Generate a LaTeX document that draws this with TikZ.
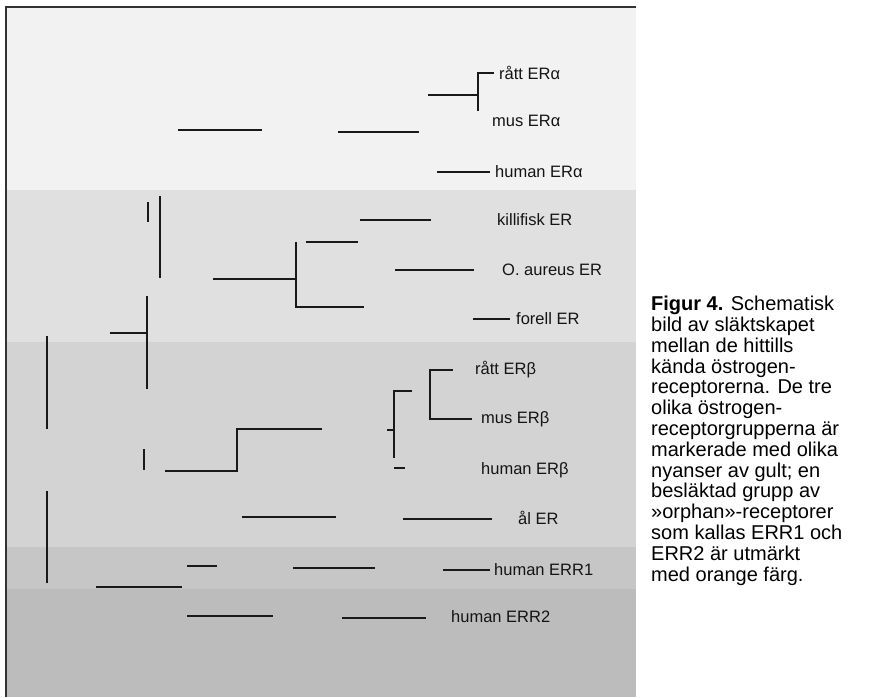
\documentclass[tikz,border=0pt]{standalone}
\usepackage{fontspec}
\setmainfont{Liberation Sans}
\definecolor{bandA}{HTML}{F2F2F2}
\definecolor{bandB}{HTML}{E0E0E0}
\definecolor{bandC}{HTML}{D3D3D3}
\definecolor{bandD}{HTML}{C6C6C6}
\definecolor{bandE}{HTML}{BCBCBC}
\begin{document}
\begin{tikzpicture}[x=1pt,y=-1pt,
  br/.style={line width=1.8pt,color=black!90},
  lab/.style={anchor=west,inner sep=0pt,font=\fontsize{16.5}{18}\selectfont,text=black!92},
  captext/.style={anchor=north west,inner sep=0pt,align=left,font=\fontsize{20}{20.8}\selectfont,text=black}
]
\useasboundingbox (0,0) rectangle (872,697);
\fill[white] (0,0) rectangle (872,697);
% background bands
\fill[bandA] (6,7) rectangle (636,190);
\fill[bandB] (6,190) rectangle (636,342);
\fill[bandC] (6,342) rectangle (636,547);
\fill[bandD] (6,547) rectangle (636,589);
\fill[bandE] (6,589) rectangle (636,697);
\coordinate (fbl) at (6,697);
\coordinate (ftl) at (6,7);
\coordinate (ftr) at (636,7);
\draw[line width=1.2pt,black!80] (fbl) -- (ftl) -- (ftr);

% ---- ER alpha group
\coordinate (ra1) at (478,73);
\coordinate (ra2) at (494,73);
\coordinate (ra3) at (478,111);
\coordinate (ra4) at (428,95);
\coordinate (ra5) at (478,95);
\draw[br] (ra2) -- (ra1) -- (ra3);
\draw[br] (ra4) -- (ra5);
\coordinate (ha1) at (178,130); \coordinate (ha2) at (262,130);
\coordinate (hb1) at (338,132); \coordinate (hb2) at (419,132);
\coordinate (he1) at (437,172); \coordinate (he2) at (490,172);
\draw[br] (ha1) -- (ha2);
\draw[br] (hb1) -- (hb2);
\draw[br] (he1) -- (he2);
\node[lab] (rattA) at (499,73) {rått ERα};
\node[lab] (musA) at (492,121) {mus ERα};
\node[lab] (humA) at (495,172) {human ERα};

% ---- fish ER group
\coordinate (v1a) at (148,202); \coordinate (v1b) at (148,222);
\coordinate (v2a) at (160,196); \coordinate (v2b) at (160,278);
\draw[br] (v1a) -- (v1b);
\draw[br] (v2a) -- (v2b);
\coordinate (kf1) at (360,220); \coordinate (kf2) at (431,220);
\coordinate (k21) at (306,242); \coordinate (k22) at (358,242);
\coordinate (kv1) at (296,242); \coordinate (kv2) at (296,307);
\coordinate (kh1) at (213,279); \coordinate (kh2) at (296,279);
\coordinate (kb2) at (364,307);
\coordinate (oa1) at (395,270); \coordinate (oa2) at (474,270);
\coordinate (fo1) at (473,319); \coordinate (fo2) at (510,319);
\draw[br] (kf1) -- (kf2);
\draw[br] (k21) -- (k22);
\draw[br] (kv1) -- (kv2) -- (kb2);
\draw[br] (kh1) -- (kh2);
\draw[br] (oa1) -- (oa2);
\draw[br] (fo1) -- (fo2);
\node[lab] (killi) at (497,220) {killifisk ER};
\node[lab] (aureus) at (502,270) {O. aureus ER};
\node[lab] (forell) at (516,319) {forell ER};

% ---- left spine pieces
\coordinate (s1a) at (147,296); \coordinate (s1b) at (147,389);
\coordinate (s1h) at (110,333); \coordinate (s1m) at (147,333);
\coordinate (s2a) at (47,336); \coordinate (s2b) at (47,429);
\coordinate (s3a) at (47,491); \coordinate (s3b) at (47,583);
\draw[br] (s1a) -- (s1b);
\draw[br] (s1h) -- (s1m);
\draw[br] (s2a) -- (s2b);
\draw[br] (s3a) -- (s3b);

% ---- ER beta group
\coordinate (rb0) at (453,370); \coordinate (rb1) at (430,370);
\coordinate (rb2) at (430,419); \coordinate (rb3) at (472,419);
\draw[br] (rb0) -- (rb1) -- (rb2) -- (rb3);
\coordinate (bv0) at (412,391); \coordinate (bv1) at (394,391);
\coordinate (bv2) at (394,458);
\draw[br] (bv0) -- (bv1) -- (bv2);
\coordinate (bt1) at (387,430); \coordinate (bt2) at (394,430);
\coordinate (bt3) at (394,468); \coordinate (bt4) at (405,468);
\draw[br] (bt1) -- (bt2);
\draw[br] (bt3) -- (bt4);
\coordinate (bh0) at (322,429); \coordinate (bh1) at (237,429);
\coordinate (bh2) at (237,471); \coordinate (bh3) at (165,471);
\draw[br] (bh0) -- (bh1) -- (bh2) -- (bh3);
\coordinate (bs1) at (144,449); \coordinate (bs2) at (144,470);
\draw[br] (bs1) -- (bs2);
\coordinate (al1) at (242,517); \coordinate (al2) at (336,517);
\coordinate (al3) at (403,519); \coordinate (al4) at (492,519);
\draw[br] (al1) -- (al2);
\draw[br] (al3) -- (al4);
\node[lab] (rattB) at (475,370) {rått ERβ};
\node[lab] (musB) at (481,419) {mus ERβ};
\node[lab] (humB) at (481,470) {human ERβ};
\node[lab] (alER) at (518,518) {ål ER};

% ---- ERR group
\coordinate (e01) at (96,587); \coordinate (e02) at (182,587);
\coordinate (e11) at (187,566); \coordinate (e12) at (217,566);
\coordinate (e13) at (293,568); \coordinate (e14) at (375,568);
\coordinate (e15) at (443,570); \coordinate (e16) at (490,570);
\coordinate (e21) at (187,616); \coordinate (e22) at (273,616);
\coordinate (e23) at (342,618); \coordinate (e24) at (426,618);
\draw[br] (e01) -- (e02);
\draw[br] (e11) -- (e12);
\draw[br] (e13) -- (e14);
\draw[br] (e15) -- (e16);
\draw[br] (e21) -- (e22);
\draw[br] (e23) -- (e24);
\node[lab] (err1) at (494,570) {human ERR1};
\node[lab] (err2) at (451,617) {human ERR2};

% ---- caption
\node[captext] (caption) at (651,296) {\textbf{Figur 4.} Schematisk\\
bild av släktskapet\\
mellan de hittills\\
kända östrogen-\\
receptorerna. De tre\\
olika östrogen-\\
receptorgrupperna är\\
markerade med olika\\
nyanser av gult; en\\
besläktad grupp av\\
»orphan»-receptorer\\
som kallas ERR1 och\\
ERR2 är utmärkt\\
med orange färg.};
\end{tikzpicture}
\end{document}
